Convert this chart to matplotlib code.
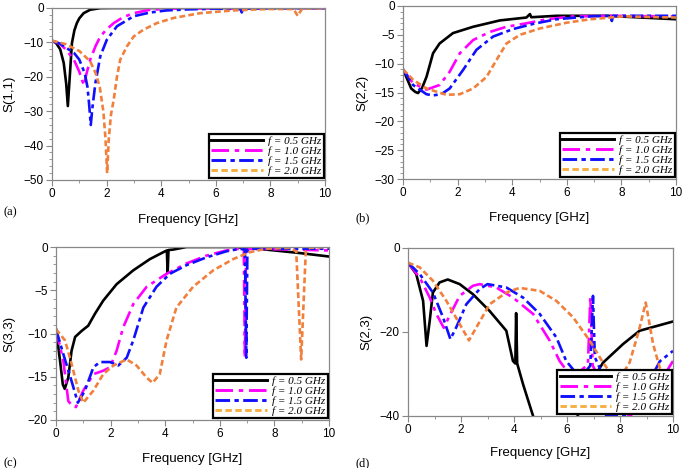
import matplotlib
matplotlib.use('Agg')
import matplotlib.pyplot as plt
from matplotlib.lines import Line2D
from matplotlib.ticker import MultipleLocator

# legend labels and colours
labels = ['f = 0.5 GHz', 'f = 1.0 GHz', 'f = 1.5 GHz', 'f = 2.0 GHz']
colors = ['black', '#ff00ff', '#1010ff', '#f0803c']
legend_colors = ['black', '#ff00ff', '#1010ff', '#f5b041']

# ---- (a) S(1,1)
a05_x = [0, 0.15, 0.3, 0.43, 0.52, 0.58, 0.65, 0.73, 0.82, 0.91, 1.0, 1.16, 1.4, 1.77, 2.2, 10]
a05_y = [-9.5, -10.2, -12, -16, -22, -28.5, -20, -10.2, -6.5, -4.4, -3.0, -1.5, -0.5, -0.05, 0, 0]
a10_x = [0, 0.3, 0.5, 0.8, 1.0, 1.1, 1.18, 1.25, 1.4, 1.6, 1.77, 2.0, 2.26, 2.6, 2.99, 3.6, 4.5, 6.0,
         6.9, 6.95, 7.0, 8, 10]
a10_y = [-9.5, -10.5, -12, -15, -18.5, -21, -22.5, -19.5, -15, -11, -8.3, -6.2, -4.4, -2.7, -1.5, -0.5,
         -0.2, -0.1, -0.2, -1.2, -0.1, 0, 0]
a15_x = [0, 0.3, 0.5, 0.8, 1.0, 1.2, 1.3, 1.36, 1.42, 1.48, 1.59, 1.77, 2.01, 2.38, 2.99, 3.6, 4.2, 5.0,
         6.0, 6.9, 6.95, 7.0, 8, 10]
a15_y = [-9.5, -10.4, -11.5, -13, -15, -19, -23, -28, -34, -29, -21.8, -14, -9.2, -5.3, -2.4, -1.3, -0.7,
         -0.4, -0.2, -0.3, -1.3, -0.2, -0.05, 0]
a20_x = [0, 0.5, 1.0, 1.4, 1.6, 1.75, 1.88, 1.96, 2.02, 2.08, 2.16, 2.26, 2.38, 2.5, 2.74, 2.99, 3.35,
         3.84, 4.45, 5.43, 6.65, 7.87, 8.85, 9.0, 9.15, 9.5, 10]
a20_y = [-9.5, -10.5, -12.5, -15.5, -19, -23, -30, -38, -48, -38, -31, -26.7, -20, -15, -11.2, -8.3,
         -6.3, -4.4, -2.9, -1.5, -0.7, -0.3, -0.3, -2.3, -0.3, -0.1, 0]

# ---- (b) S(2,2)
b05_x = [0, 0.12, 0.3, 0.45, 0.55, 0.7, 0.86, 1.1, 1.34, 1.83, 2.57, 3.55, 4.52, 4.65, 4.7, 5.62, 7.46, 10]
b05_y = [-11, -12.3, -14.3, -14.9, -15.1, -14.2, -12.3, -8.2, -6.5, -4.7, -3.6, -2.5, -2.0, -1.4, -1.95,
         -1.7, -1.7, -2.3]
b10_x = [0, 0.37, 0.86, 1.34, 1.71, 2.08, 2.57, 3.18, 3.79, 4.52, 5.26, 6.23, 7.46, 10]
b10_y = [-11, -13.4, -14.5, -13.7, -11.4, -8.2, -5.9, -4.5, -3.6, -3.0, -2.3, -1.8, -1.7, -1.8]
b15_x = [0, 0.37, 0.86, 1.1, 1.4, 1.71, 2.2, 2.69, 3.3, 4.03, 4.77, 5.62, 6.85, 7.6, 7.65, 7.7, 10]
b15_y = [-11, -13.7, -15.3, -15.5, -15.3, -14.3, -11.1, -7.6, -5.3, -4.0, -3.1, -2.3, -1.8, -1.7, -2.6,
         -1.7, -1.7]
b20_x = [0, 0.37, 0.86, 1.59, 2.08, 2.57, 3.06, 3.42, 3.79, 4.28, 5.01, 5.99, 6.85, 8.07, 10]
b20_y = [-11, -12.8, -14.3, -15.4, -15.3, -14.3, -12.3, -9.4, -6.5, -5.0, -3.9, -2.9, -2.3, -1.8, -2.0]

# ---- (c) S(3,3)
c05_x = [0, 0.15, 0.25, 0.32, 0.45, 0.57, 0.7, 0.94, 1.18, 1.43, 1.73, 2.22, 2.83, 3.44, 3.93, 4.06,
         4.09, 4.12, 4.29, 4.78, 6.5, 7.7, 8.93, 10]
c05_y = [-9.5, -13.2, -15.9, -16.4, -15.1, -12, -10.4, -9.7, -9.1, -7.7, -6.2, -4.3, -2.7, -1.4, -0.6,
         -0.4, -3.0, -0.35, -0.3, 0, 0, -0.3, -0.7, -1.1]
c10_x = [0, 0.27, 0.45, 0.6, 0.73, 1.0, 1.37, 1.73, 1.98, 2.22, 2.46, 2.83, 3.32, 4.05, 4.78, 5.51, 6.24,
         6.73, 6.88, 6.92, 6.96, 7.2, 10]
c10_y = [-9.5, -13.2, -17.8, -18.4, -18.5, -16.6, -14.7, -14.3, -13.9, -12, -9.3, -6.6, -4.6, -3.1, -1.9,
         -1.0, -0.4, -0.2, -0.3, -12.8, -0.3, -0.2, -0.4]
c15_x = [0, 0.27, 0.57, 0.8, 1.06, 1.37, 1.61, 1.98, 2.28, 2.59, 2.83, 3.2, 3.68, 4.17, 4.78, 5.51, 6.24,
         6.73, 6.92, 6.97, 7.01, 7.2, 10]
c15_y = [-9.5, -12.4, -15.5, -18, -16.6, -13.9, -13.3, -13.3, -13.7, -12.8, -10.8, -7.0, -4.6, -3.1, -2.1,
         -1.2, -0.5, -0.2, -0.3, -12.8, -0.3, -0.2, -0.2]
c20_x = [0, 0.33, 0.57, 0.82, 1.0, 1.37, 1.73, 2.1, 2.59, 2.95, 3.32, 3.54, 3.8, 4.05, 4.41, 5.02, 5.76,
         6.49, 7.1, 7.7, 8.56, 8.8, 8.98, 9.15, 9.3, 10]
c20_y = [-9.5, -10.8, -13.5, -16.6, -18, -16.6, -14.7, -13.7, -13.0, -13.7, -15.1, -15.7, -14.7, -10.8,
         -7.0, -4.6, -2.7, -1.4, -0.6, -0.2, -0.1, -0.5, -13, -0.5, -0.1, 0]

# ---- (d) S(2,3)
d05_x = [0, 0.31, 0.57, 0.7, 0.82, 0.94, 1.19, 1.5, 1.95, 2.45, 3.08, 3.71, 3.96, 4.05, 4.08, 4.12,
         4.34, 4.72, 5.2, 5.8, 6.4, 7.0, 7.36, 8.11, 8.74, 10]
d05_y = [-3.5, -6.2, -12.6, -23.3, -17.3, -10.6, -8.2, -7.5, -8.6, -11, -15, -19.7, -26.9, -27.5, -15.5,
         -27.5, -32.4, -40, -46, -46, -40, -31, -27.3, -22.9, -19.7, -17.5]
d10_x = [0, 0.44, 0.82, 1.07, 1.35, 1.57, 1.95, 2.45, 2.7, 3.33, 3.96, 4.72, 5.35, 5.72, 6.2, 6.79, 6.88,
         6.97, 7.3, 7.8, 8.36, 9.0, 9.6, 10]
d10_y = [-3.5, -7, -11.8, -15.7, -19, -16.1, -11.4, -9, -8.6, -9.4, -11.8, -15.7, -22.1, -26.9, -31, -27.7,
         -11.8, -28, -32, -37, -40, -37, -31, -26.9]
d15_x = [0, 0.44, 0.94, 1.32, 1.6, 1.82, 2.2, 2.7, 3.0, 3.71, 4.34, 4.97, 5.6, 5.97, 6.5, 6.88, 6.98,
         7.05, 7.23, 7.48, 8.3, 9.0, 9.5, 10]
d15_y = [-3.5, -6.2, -10.6, -16.5, -21.7, -18.9, -13.4, -9.8, -8.6, -9.4, -11.8, -15.7, -21.3, -26.9,
         -31, -28, -11.4, -26, -28.5, -40, -40, -33, -27, -24.5]
d20_x = [0, 0.44, 0.94, 1.45, 1.95, 2.3, 2.58, 3.08, 3.71, 4.21, 4.97, 5.6, 6.23, 6.86, 7.36, 7.9, 8.36,
         8.7, 8.97, 9.25, 9.5, 10]
d20_y = [-3.5, -4.6, -7.8, -12.6, -18.1, -22, -18.9, -13.4, -10.6, -9.5, -10.2, -12.6, -16.5, -22.1,
         -27.3, -32, -27.3, -20, -13, -22.9, -28.5, -35.6]

styles = [dict(ls='-'), dict(ls=(0, (6, 2, 1.5, 2))), dict(ls=(0, (5, 1.5, 1.5, 1.5))),
          dict(ls=(0, (2.2, 1.2)))]

# tag, ylabel, curves, axes box in px (left, bottom, width, height), ylim, y major, y minor,
# xlabel top offset, ylabel right offset, tag (x, y) in px
panels = [
    ('(a)', 'S(1,1)', [(a05_x, a05_y), (a10_x, a10_y), (a15_x, a15_y), (a20_x, a20_y)],
     (52, 180, 273, 172), (-50, 0), 10, 2, 34, 37, (4, 212)),
    ('(b)', 'S(2,2)', [(b05_x, b05_y), (b10_x, b10_y), (b15_x, b15_y), (b20_x, b20_y)],
     (403, 179, 273, 173), (-30, 0), 5, 1, 33, 35, (355, 218)),
    ('(c)', 'S(3,3)', [(c05_x, c05_y), (c10_x, c10_y), (c15_x, c15_y), (c20_x, c20_y)],
     (56, 420, 273, 173), (-20, 0), 5, 1, 33, 41, (3, 463)),
    ('(d)', 'S(2,3)', [(d05_x, d05_y), (d10_x, d10_y), (d15_x, d15_y), (d20_x, d20_y)],
     (408, 416, 265, 168), (-40, 0), 20, None, 31, 36, (355, 463)),
]

W, H = 685, 468
fig = plt.figure(figsize=(W / 100, H / 100), dpi=100)
sans = 'Liberation Sans'
serif = 'Liberation Serif'

for tag, ylab, curves, (l, b, w, h), ylim, ymaj, ymin, xoff, yoff, (tx, ty) in panels:
    ax = fig.add_axes([l / W, (H - b) / H, w / W, h / H])
    for (x, y), c, st in zip(curves, colors, styles):
        ax.plot(x, y, color=c, lw=1.9, **st)
    ax.set_xlim(0, 10)
    ax.set_ylim(*ylim)
    ax.xaxis.set_major_locator(MultipleLocator(2))
    ax.xaxis.set_minor_locator(MultipleLocator(1))
    ax.yaxis.set_major_locator(MultipleLocator(ymaj))
    if ymin:
        ax.yaxis.set_minor_locator(MultipleLocator(ymin))
    for s in ax.spines.values():
        s.set_color('#888888')
        s.set_linewidth(0.9)
    ax.tick_params(which='both', direction='out', color='#888888', labelsize=8.5, pad=2)
    ax.tick_params(which='major', length=4)
    ax.tick_params(which='minor', length=2.5)
    for t in ax.get_xticklabels() + ax.get_yticklabels():
        t.set_fontfamily(sans)
    ax.set_xlabel('Frequency [GHz]', fontsize=9.5, family=sans)
    ax.set_ylabel(ylab, fontsize=9.5, family=sans)
    ax.xaxis.set_label_coords(0.5, -xoff / h)
    ax.yaxis.set_label_coords(-yoff / w, 0.5)
    handles = [Line2D([], [], color=c, lw=2.1, **st) for c, st in zip(legend_colors, styles)]
    leg = ax.legend(handles, labels, loc='lower right', bbox_to_anchor=(0.995, 0.012),
                    prop=dict(family=serif, style='italic', size=8), frameon=True,
                    fancybox=False, framealpha=1, handlelength=4.6, labelspacing=0.02,
                    borderpad=0.2, handletextpad=0.5, borderaxespad=0)
    leg.get_frame().set_edgecolor('black')
    leg.get_frame().set_linewidth(1.6)
    fig.text(tx / W, 1 - ty / H, tag, family=serif, fontsize=9, va='center')

fig.savefig('out.png', dpi=100)
